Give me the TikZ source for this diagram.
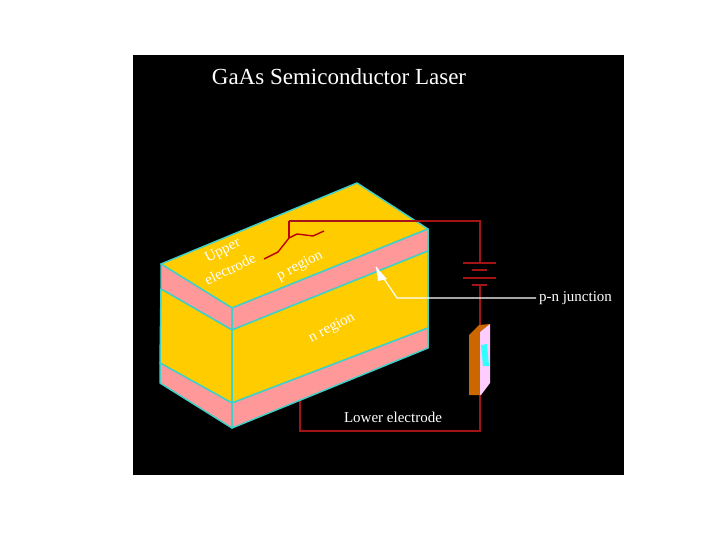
\documentclass[tikz,border=0pt]{standalone}
\usepackage{fontspec}
\setmainfont{Liberation Serif}
\definecolor{amber}{RGB}{255,204,0}
\definecolor{salmon}{RGB}{255,153,153}
\definecolor{edgecyan}{RGB}{64,208,200}
\definecolor{wire}{RGB}{165,20,20}
\definecolor{brownorange}{RGB}{204,102,0}
\definecolor{lilac}{RGB}{255,204,255}
\definecolor{aqua}{RGB}{51,255,255}
\tikzset{
  every node/.style={text=white,inner sep=0pt},
  layerA/.style={fill=amber,draw=edgecyan,line width=1.5pt,line join=round},
  layerB/.style={fill=salmon,draw=edgecyan,line width=1.5pt,line join=round},
  wireline/.style={draw=wire,line width=1.4pt},
  lead/.style={draw=white,line width=1.2pt},
  boldtext/.style={font=\fontsize{15}{15}\selectfont},
}
\begin{document}
\begin{tikzpicture}[x=1pt,y=-1pt]
\useasboundingbox (0,0) rectangle (720,540);
\fill[white] (0,0) rectangle (720,540);
\fill[black] (133,55) rectangle (624,475);
% coordinates of the block
\coordinate (back) at (357,183);
\coordinate (tr) at (428,229);
\coordinate (tf) at (232,308);
\coordinate (tl) at (161,264);
\coordinate (ul) at (161,289);
\coordinate (uf) at (232,330);
\coordinate (ur) at (428,251);
\coordinate (ll) at (160,363);
\coordinate (lf) at (232,403);
\coordinate (lr) at (428,328);
\coordinate (bl) at (160,383);
\coordinate (bf) at (232,428);
\coordinate (br) at (428,348);
% wire to lower electrode sits behind block
\coordinate (wa) at (300,400);
\coordinate (wb) at (300,431);
\coordinate (wc) at (480,431);
\coordinate (wd) at (480,395);
\draw[wireline] (wa) -- (wb) -- (wc) -- (wd);
% faces
\path[layerA] (tl) -- (back) -- (tr) -- (tf) -- cycle;
\path[layerB] (tl) -- (tf) -- (uf) -- (ul) -- cycle;
\path[layerB] (tf) -- (tr) -- (ur) -- (uf) -- cycle;
\path[layerA] (ul) -- (uf) -- (lf) -- (ll) -- cycle;
\path[layerA] (uf) -- (ur) -- (lr) -- (lf) -- cycle;
\path[layerB] (ll) -- (lf) -- (bf) -- (bl) -- cycle;
\path[layerB] (lf) -- (lr) -- (br) -- (bf) -- cycle;
% upper electrode
\coordinate (e1) at (264,259);
\coordinate (e2) at (278,252);
\coordinate (e3) at (289,238);
\coordinate (e4) at (297,234);
\coordinate (e5) at (313,236);
\coordinate (e6) at (324,231);
\coordinate (w1) at (289,221);
\coordinate (w2) at (480,221);
\coordinate (w3) at (480,263);
\draw[wireline,draw=red!75!black] (e1) -- (e2) -- (e3) -- (e4) -- (e5) -- (e6);
\draw[wireline,line width=1.8pt,draw=red!75!black] (e3) -- (w1);
\draw[wireline] (w1) -- (w2) -- (w3);
% battery
\coordinate (b1a) at (463,263); \coordinate (b1b) at (496,263);
\coordinate (b2a) at (472,270); \coordinate (b2b) at (487,270);
\coordinate (b3a) at (463,278); \coordinate (b3b) at (496,278);
\coordinate (b4a) at (472,285); \coordinate (b4b) at (487,285);
\coordinate (b4m) at (480,285);
\coordinate (m1) at (480,325);
\draw[wireline] (b1a) -- (b1b);
\draw[wireline] (b2a) -- (b2b);
\draw[wireline] (b3a) -- (b3b);
\draw[wireline] (b4a) -- (b4b);
\draw[wireline] (b4m) -- (m1);
% component
\fill[brownorange] (469,335) -- (479,325) -- (490,324) -- (480,332) -- (480,395) -- (469,395) -- cycle;
\fill[lilac] (480,332) -- (490,324) -- (490,383) -- (481,395) -- (480,395) -- cycle;
\fill[aqua] (481,345) -- (487,344) -- (489,366) -- (483,366) -- cycle;
% p-n lead
\coordinate (p1) at (536,298);
\coordinate (p2) at (397,298);
\coordinate (p3) at (376,267);
\draw[lead] (p1) -- (p2) -- (p3);
\fill[white] (376,267) -- (387,279) -- (378,281) -- cycle;
% labels
\node[anchor=center,font=\fontsize{23}{23}\selectfont] (title) at (339,77) {GaAs Semiconductor Laser};
\node[boldtext] (pn) at (575.5,298) {p-n junction};
\node[boldtext] (le) at (393,417) {Lower electrode};
\node[boldtext,rotate=27] (up) at (223,251) {Upper};
\node[boldtext,rotate=26] (el) at (230,269) {electrode};
\node[boldtext,rotate=27] (pr) at (300,266) {p region};
\node[boldtext,rotate=27] (nr) at (332,328) {n region};
\end{tikzpicture}
\end{document}
